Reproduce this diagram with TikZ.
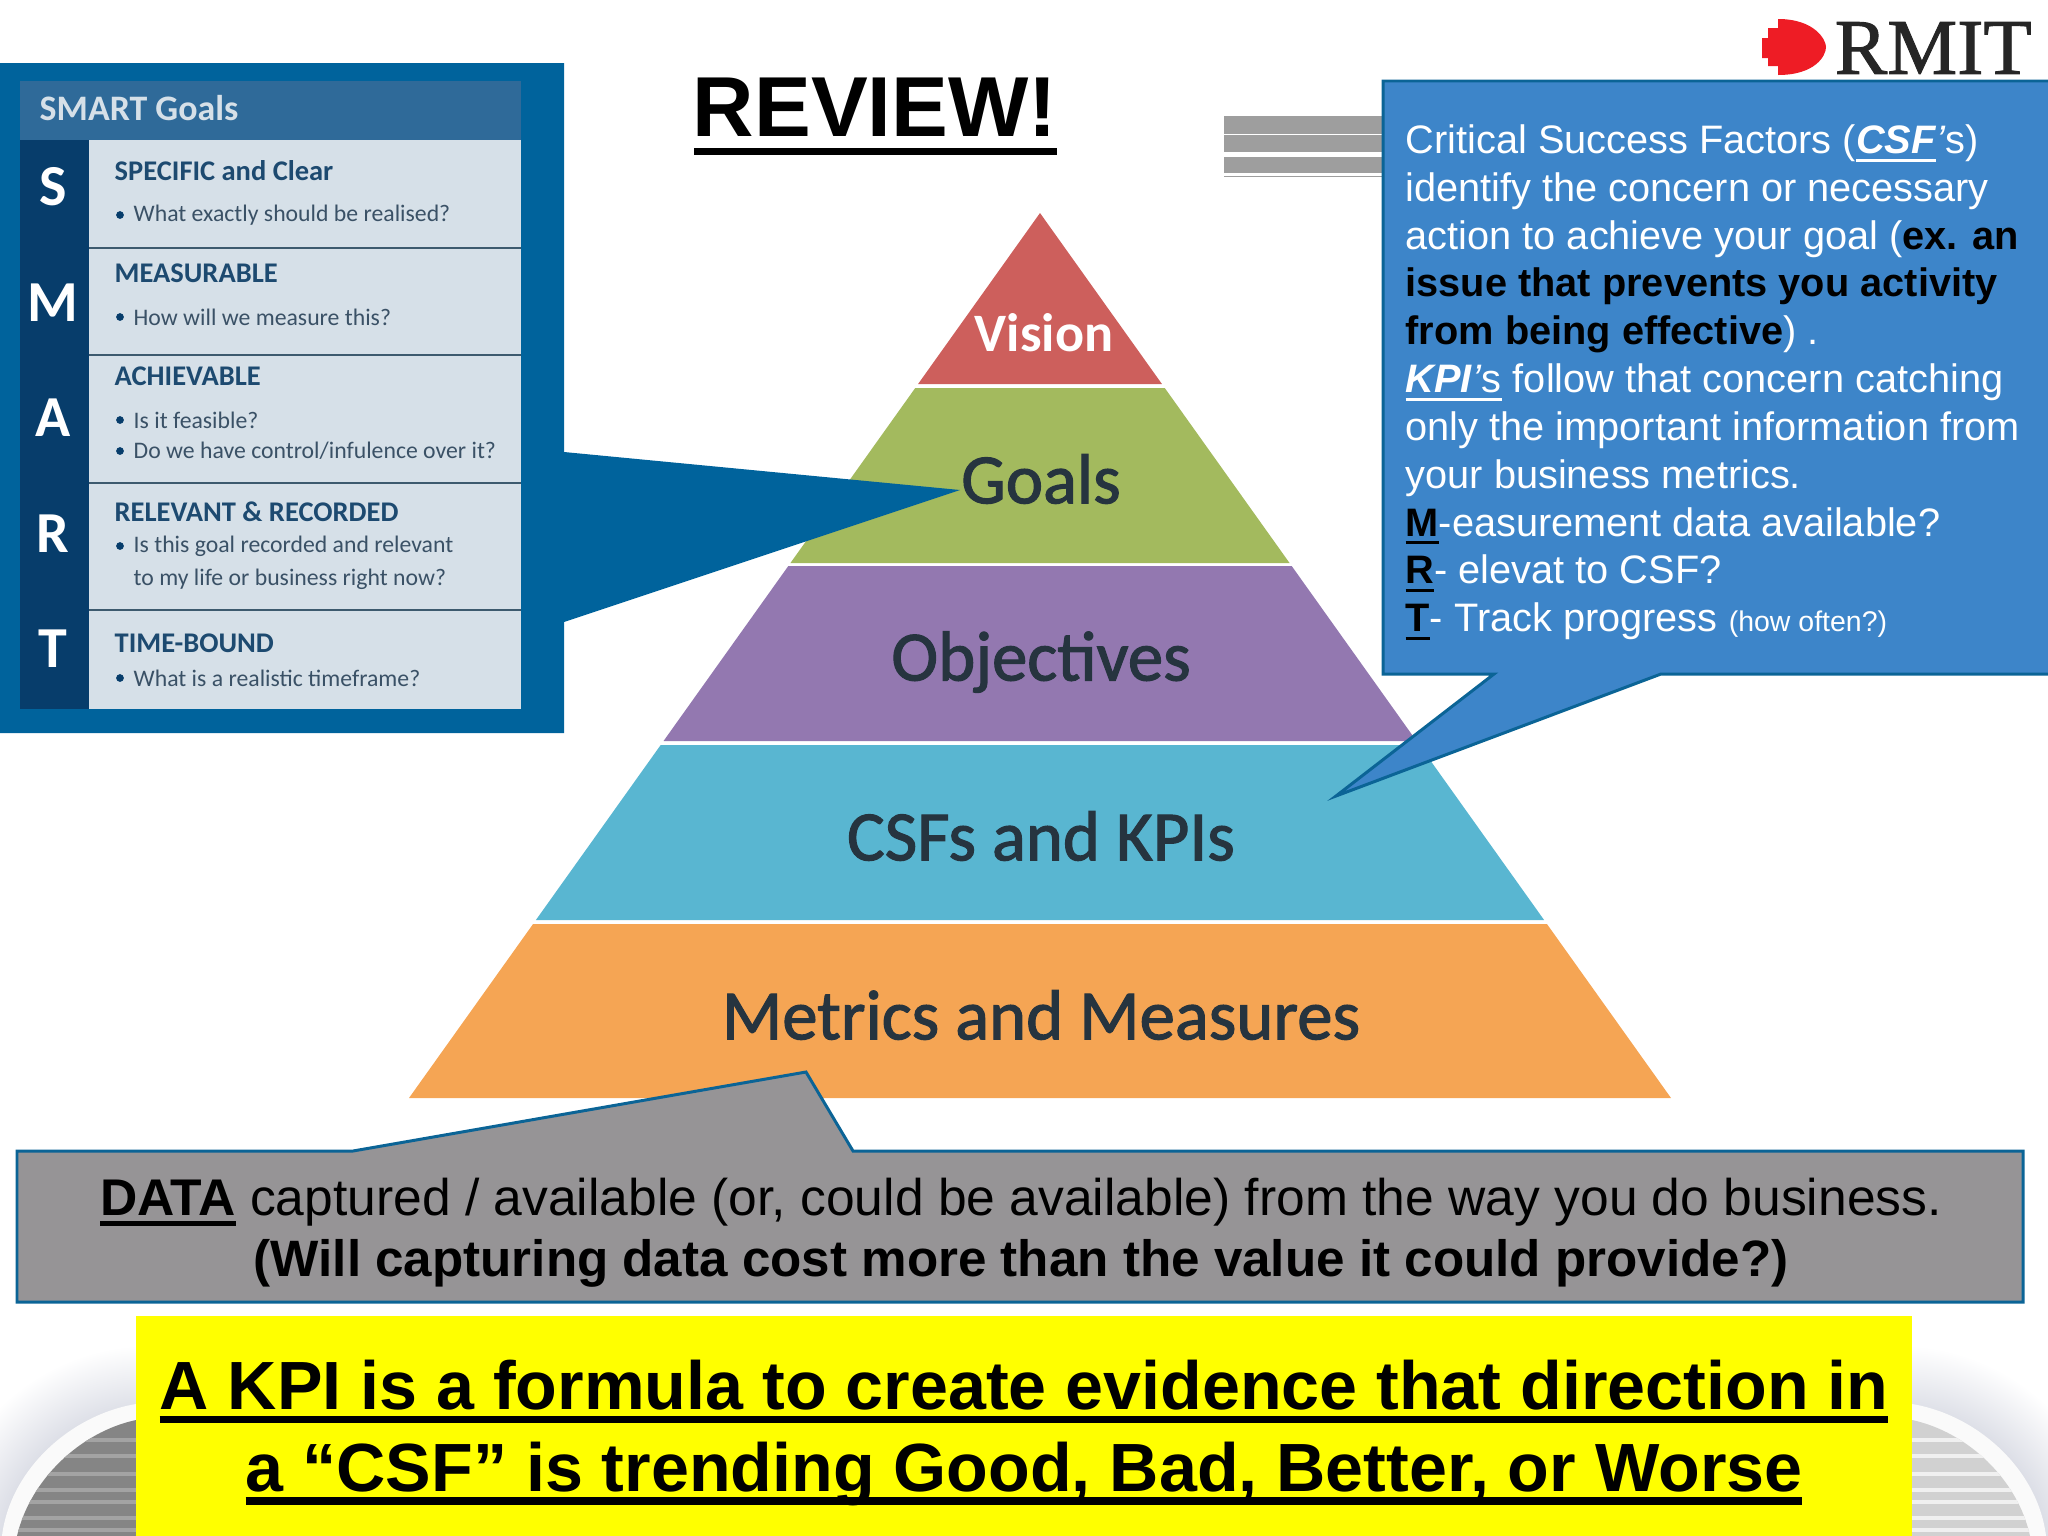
\documentclass[tikz,border=0pt]{standalone}
\usepackage{fontspec}
\setmainfont{Liberation Sans}
\newfontfamily\calibrifont{Carlito}
\newfontfamily\pyramidfont[FakeBold=1.6]{Carlito}
\newfontfamily\logofont[FakeBold=1.2]{Liberation Serif}
\definecolor{calloutblue}{HTML}{00639C}
\definecolor{noteblue}{HTML}{3D85C9}
\definecolor{noteedge}{HTML}{0B6496}
\definecolor{notegrey}{HTML}{969496}
\definecolor{rowgrey}{HTML}{D6E0E8}
\definecolor{rowline}{HTML}{3D5A6E}
\definecolor{headblue}{HTML}{2F6A99}
\definecolor{colblue}{HTML}{073D6B}
\definecolor{headtext}{HTML}{1D4A70}
\definecolor{rowtext}{HTML}{3A5166}
\definecolor{pyrtext}{HTML}{26343F}
\definecolor{visionred}{HTML}{CD5F5C}
\definecolor{goalsgreen}{HTML}{A3BA5E}
\definecolor{objpurple}{HTML}{9378B0}
\definecolor{csfteal}{HTML}{59B6D1}
\definecolor{metricorange}{HTML}{F5A554}
\definecolor{logored}{HTML}{EE1C25}
\definecolor{bannery}{HTML}{FFFF00}
\definecolor{glow}{HTML}{8C93AE}
\newcommand{\barul}[3]{\setbox0=\hbox{#3}\leavevmode\rlap{\vrule width\wd0 height -#1 depth \dimexpr#1+#2\relax}\box0\relax}
\newcommand{\thickul}[1]{\barul{1.7pt}{2.2pt}{#1}}
\newcommand{\dataul}[1]{\barul{1.6pt}{1.2pt}{#1}}
\newcommand{\noteul}[1]{\barul{1.5pt}{0.85pt}{#1}}
\tikzset{
  layerlabel/.style={font=\pyramidfont\fontsize{20.1}{22}\selectfont,text=pyrtext,inner sep=0pt},
  smartletter/.style={font=\calibrifont\bfseries\fontsize{16.5}{20}\selectfont,text=white,inner sep=0pt},
  rowhead/.style={anchor=west,font=\calibrifont\bfseries\fontsize{8.1}{10}\selectfont,text=headtext,inner sep=0pt},
  rowitem/.style={anchor=west,font=\calibrifont\fontsize{6.75}{8}\selectfont,text=rowtext,inner sep=0pt},
  rowdot/.style={circle,fill=colblue,inner sep=0pt,minimum size=2.2pt},
  noteshape/.style={draw=noteedge,line width=0.85pt,line join=miter}
}
\begin{document}
\begin{tikzpicture}[x=0.01cm,y=-0.01cm]
\useasboundingbox (0,0) rectangle (2048,1536);

% bottom corners
\begin{scope}
\clip (0,1200) rectangle (2048,1536);
\shade[inner color=glow,outer color=white] (150,1560) circle (215);
\shade[inner color=glow,outer color=white] (1898,1560) circle (215);
\fill[white!96!gray] (2,1536) .. controls (10,1470) and (70,1415) .. (136,1404) -- (136,1536) -- cycle;
\fill[white!96!gray] (2046,1536) .. controls (2038,1470) and (1978,1415) .. (1912,1404) -- (1912,1536) -- cycle;
\begin{scope}
\clip (17,1536) .. controls (30,1480) and (80,1432) .. (136,1420) -- (136,1536) -- cycle;
\fill[black!48] (0,1400) rectangle (140,1536);
\foreach \y in {1440,1456,1474,1490,1502,1518,1530}
  \draw[black!36,line width=1pt] (0,\y) -- (140,\y);
\end{scope}
\begin{scope}
\clip (2030,1536) .. controls (2018,1480) and (1968,1432) .. (1912,1420) -- (1912,1536) -- cycle;
\fill[black!18] (1900,1400) rectangle (2048,1536);
\foreach \y in {1440,1456,1474,1490,1502,1518,1530}
  \draw[black!6,line width=1pt] (1900,\y) -- (2048,\y);
\end{scope}
\end{scope}

% pyramid
\foreach \ya/\yb/\col in {213/384/visionred,388/563/goalsgreen,566/741/objpurple,745/920/csfteal,924/1098/metricorange}
  \fill[\col] ({1040-0.713*(\ya-213)},\ya) -- ({1040+0.713*(\ya-213)},\ya)
    -- ({1040+0.713*(\yb-213)},\yb) -- ({1040-0.713*(\yb-213)},\yb) -- cycle;

\node[layerlabel,text=white,font=\calibrifont\bfseries\fontsize{15.4}{18}\selectfont] (vision) at (1044,333) {Vision};
\node[layerlabel] (goals) at (1041,479) {Goals};
\node[layerlabel] (objectives) at (1041,662) {Objectives};
\node[layerlabel] (csfs) at (1041,836) {CSFs and KPIs};
\node[layerlabel] (metrics) at (1041,1015) {Metrics and Measures};

% smart panel
\coordinate (goaltip) at (960,490);
\fill[calloutblue] (0,63) -- (564,63) -- (564,452) -- (goaltip) -- (564,622) -- (564,733) -- (0,733) -- cycle;
\fill[rowgrey] (89,140) rectangle (521,709);
\fill[colblue] (20,140) rectangle (89,709);
\fill[headblue] (20,81) rectangle (521,140);
\foreach \y in {248,355,483,610}
  \draw[rowline,line width=0.7pt] (89,\y) -- (521,\y);

\node[anchor=west,inner sep=0pt,text=rowgrey,font=\calibrifont\bfseries\fontsize{10.2}{12}\selectfont] (smarthead) at (39,108) {SMART Goals};

\foreach \name/\ltr/\ypos in {s/S/187,m/M/303,a/A/418,r/R/534,t/T/649}
  \node[smartletter] (letter\name) at (53,\ypos) {\ltr};

\node[rowhead] (rowS) at (114,171) {SPECIFIC and Clear};
\node[rowhead] (rowM) at (114,273) {MEASURABLE};
\node[rowhead] (rowA) at (114,376) {ACHIEVABLE};
\node[rowhead] (rowR) at (114,512) {RELEVANT \& RECORDED};
\node[rowhead] (rowT) at (114,643) {TIME-BOUND};

\node[rowitem] (itemS) at (133,215) {What exactly should be realised?};
\node[rowitem] (itemM) at (133,317) {How will we measure this?};
\node[rowitem] (itemA) at (133,420) {Is it feasible?};
\node[rowitem] (itemB) at (133,451) {Do we have control/infulence over it?};
\node[rowitem] (itemR) at (133,546) {Is this goal recorded and relevant};
\node[rowitem] (itemC) at (133,579) {to my life or business right now?};
\node[rowitem] (itemT) at (133,678) {What is a realistic timeframe?};
\foreach \ypos in {215,317,420,451,546,678}
  \node[rowdot] at (120,\ypos) {};

% title and logo
\node[font=\bfseries\fontsize{24.2}{28}\selectfont,inner sep=0pt] (title) at (875,107) {REVIEW!};
\fill[black] (694,148) rectangle (1057,155);

\fill[logored] (1778,19) .. controls (1815,19) and (1826,40) .. (1826,47)
  .. controls (1826,56) and (1815,75) .. (1778,75) -- (1778,66) -- (1768,66) -- (1768,58) -- (1762,58)
  -- (1762,38) -- (1768,38) -- (1768,28) -- (1778,28) -- cycle;
\node[font=\logofont\fontsize{22.4}{24}\selectfont,text=black!85,anchor=west,inner sep=0pt] (rmit) at (1834,48) {RMIT};

% stripes behind the note
\foreach \ya/\yb in {116/134,135/152,157/173}
  \fill[black!38] (1224,\ya) rectangle (1384,\yb);
\fill[black!38] (1224,176) rectangle (1384,177);

% csf note
\coordinate (csftip) at (1336,796);
\draw[noteshape,fill=noteblue] (1383,81) -- (2060,81) -- (2060,674) -- (1661,674) -- (csftip) -- (1494,674) -- (1383,674) -- cycle;
\node[anchor=north west,inner sep=0pt,text=white,align=left,
  font=\fontsize{11.3}{13.6}\selectfont] (csfnote) at (1405,124) {Critical Success Factors (\noteul{\textbf{\textit{CSF}}}\textit{'}s)\\
identify the concern or necessary\\
action to achieve your goal (\textcolor{black}{\textbf{ex. an}}\\
\textcolor{black}{\textbf{issue that prevents you activity}}\\
\textcolor{black}{\textbf{from being effective}}) .\\
\noteul{\textbf{\textit{KPI}}\textit{'}s} follow that concern catching\\
only the important information from\\
your business metrics.\\
\textcolor{black}{\noteul{\textbf{M}}}-easurement data available?\\
\textcolor{black}{\noteul{\textbf{R}}}- elevat to CSF?\\
\textcolor{black}{\noteul{\textbf{T}}}- Track progress {\fontsize{8.1}{10}\selectfont (how often?)}};

% data note
\coordinate (datatip) at (806,1072);
\draw[noteshape,fill=notegrey] (17,1151) -- (353,1151) -- (datatip) -- (853,1151) -- (2023,1151) -- (2023,1302) -- (17,1302) -- cycle;
\node[inner sep=0pt,align=center,text=black,font=\fontsize{14.55}{17.4}\selectfont] (datanote) at (1021,1233)
  {{\fontsize{14.67}{17.4}\selectfont\dataul{\textbf{DATA}} captured / available (or, could be available) from the way you do business.}\\
  \textbf{(Will capturing data cost more than the value it could provide?)}};

% kpi banner
\fill[bannery] (136,1316) rectangle (1912,1536);
\node[inner sep=0pt,align=center,text=black,font=\bfseries\fontsize{19.4}{23.3}\selectfont] (banner) at (1024,1433)
  {\thickul{A KPI is a formula to create evidence that direction in}\\
  \thickul{a “CSF” is trending Good, Bad, Better, or Worse}};
\end{tikzpicture}
\end{document}
